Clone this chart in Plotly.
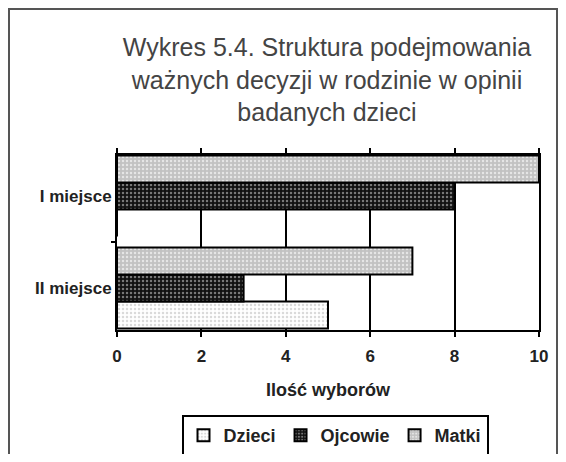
import plotly.graph_objects as go

categories = ["II miejsce", "I miejsce"]
series_names = ["Dzieci", "Ojcowie", "Matki"]
dzieci = [5, 0]
ojcowie = [3, 8]
matki = [7, 10]
x_ticks = [0, 2, 4, 6, 8, 10]

values = [dzieci, ojcowie, matki]
bg_colors = ["#ffffff", "#111111", "#c2c2c2"]
fg_colors = ["#dadada", "#777777", "#e6e6e6"]

OFF = 8  # browser body margin
W, H = 566 - 2 * OFF, 462 - 2 * OFF
L, R, T, B = 117 - OFF, 539 - OFF, 155 - OFF, 330 - OFF

fig = go.Figure()
for name, vals, bg, fg in zip(series_names, values, bg_colors, fg_colors):
    fig.add_trace(go.Bar(
        y=categories, x=vals, name=name, orientation="h",
        marker=dict(color=bg, line=dict(color="#000000", width=2),
                    pattern=dict(shape=".", bgcolor=bg, fgcolor=fg, size=4, solidity=0.3,
                                 fillmode="replace")),
    ))

def px_x(p):
    return (p - OFF - L) / (R - L)

def px_y(p):
    return (B - (p - OFF)) / (B - T)

fig.add_shape(type="rect", xref="paper", yref="paper",
              x0=px_x(9), x1=px_x(557), y0=px_y(480), y1=px_y(9),
              line=dict(color="#555555", width=2), layer="below")

font = "Liberation Sans, Arial"
fig.update_layout(
    width=W, height=H,
    margin=dict(l=L, r=W - R, t=T, b=H - B, autoexpand=False),
    paper_bgcolor="white", plot_bgcolor="white",
    barmode="group", bargap=0.12, bargroupgap=0,
    title=dict(text="Wykres 5.4. Struktura podejmowania<br>ważnych decyzji w rodzinie w opinii<br>badanych dzieci",
               x=px_x(327), xanchor="center", xref="paper",
               y=1 - 48 / H, yref="container", yanchor="top",
               font=dict(family=font, size=25, color="#444444")),
    xaxis=dict(range=[0, 10], tickvals=x_ticks, ticks="outside", ticklen=5, tickwidth=2,
               tickcolor="#000", showline=True, linecolor="#000", linewidth=2, mirror="ticks",
               showgrid=True, gridcolor="#000", gridwidth=2, zeroline=False,
               ticklabelstandoff=5, automargin=False,
               tickfont=dict(family=font, size=17, color="#222", weight="bold"),
               title=dict(text="Ilość wyborów", standoff=18,
                          font=dict(family=font, size=18, color="#222", weight="bold"))),
    yaxis=dict(type="category", categoryorder="array", categoryarray=categories,
               range=[-0.457, 1.446], ticks="outside", ticklen=4, tickwidth=2, tickcolor="#000",
               tickson="boundaries", showline=True, linecolor="#000", linewidth=2, mirror=True,
               showgrid=False, zeroline=False, automargin=False,
               tickfont=dict(family=font, size=17, color="#222", weight="bold")),
    legend=dict(orientation="h", x=px_x(335), xanchor="center", y=px_y(415), yanchor="top",
                bordercolor="#000", borderwidth=2, bgcolor="white",
                font=dict(family=font, size=18, color="#222", weight="bold"),
                itemwidth=30, tracegroupgap=0),
)

fig.write_html("out.html")
